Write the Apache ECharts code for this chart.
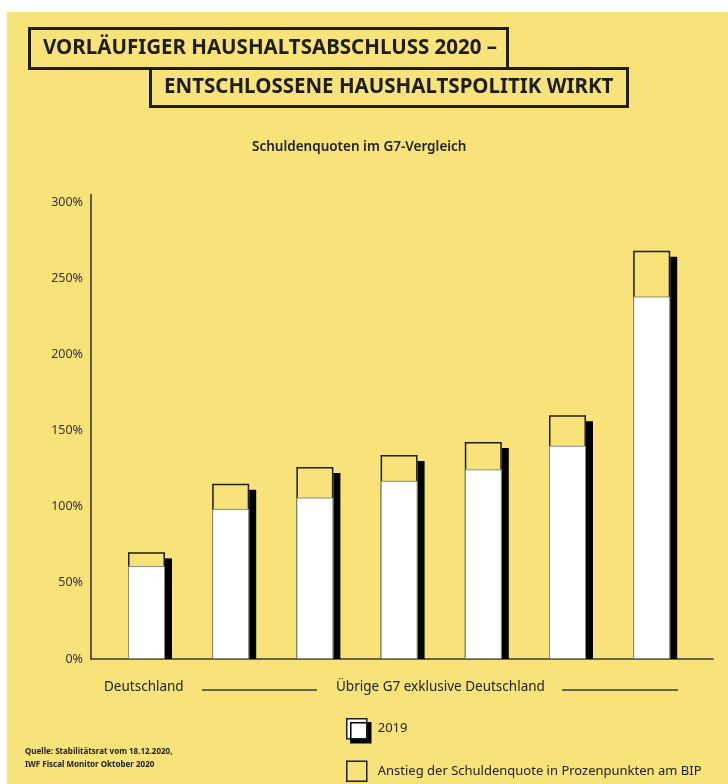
<!DOCTYPE html>
<html>
<head>
<meta charset="utf-8">
<title>Schuldenquoten im G7-Vergleich</title>
<script src="https://cdn.jsdelivr.net/npm/echarts@6/dist/echarts.min.js"></script>
<style>
  html, body { margin: 0; padding: 0; background: #fff; }
  #wrap { position: relative; width: 728px; height: 784px; overflow: hidden; }
  #panel { position: absolute; left: 7px; top: 12px; right: 0; bottom: 0; background: #f8e27a; }
  #chart { position: absolute; left: 0; top: 0; width: 728px; height: 784px; }
</style>
</head>
<body>
<div id="wrap">
  <div id="panel"></div>
  <div id="chart"></div>
</div>
<script>
// Daten (Schuldenquote in % des BIP)
const categories = ['Deutschland', 'G7-Land 1', 'G7-Land 2', 'G7-Land 3', 'G7-Land 4', 'G7-Land 5', 'G7-Land 6']
const debt2019 = [61, 98.5, 106, 117, 124.5, 140, 238]
const rise = [9, 16.5, 20, 17, 18, 20, 30]
const yTickLabels = ['0%', '50%', '100%', '150%', '200%', '250%', '300%']

const seriesName2019 = '2019'
const seriesNameRise = 'Anstieg der Schuldenquote in Prozenpunkten am BIP'

const YELLOW = '#f8e27a'
const INK = '#1d1d1b'
const FONT = 'Noto Sans'
const BAR_W = 37

// Summe = Höhe des gelben Balkens
const totals = debt2019.map((v, i) => v + rise[i])

// Schatten rechts neben jedem Balken
const renderShadow = (params, api) => {
  const top = api.coord([api.value(0), api.value(1)])
  const base = api.coord([api.value(0), 0])
  return {
    type: 'rect',
    shape: {
      x: top[0] + BAR_W / 2,
      y: top[1] + 6,
      width: 7,
      height: base[1] - top[1] - 6
    },
    style: { fill: '#000' }
  }
}

const chart = echarts.init(document.getElementById('chart'))

chart.setOption({
  animation: false,
  title: [
    {
      text: 'VORLÄUFIGER HAUSHALTSABSCHLUSS 2020 –',
      left: 29,
      top: 28,
      padding: [10, 11, 10, 14],
      borderColor: INK,
      borderWidth: 3,
      textStyle: { fontFamily: FONT, fontWeight: 'bold', fontSize: 20.5, color: INK }
    },
    {
      text: 'ENTSCHLOSSENE HAUSHALTSPOLITIK WIRKT',
      left: 150,
      top: 68,
      padding: [9, 14, 9, 14],
      borderColor: INK,
      borderWidth: 3,
      textStyle: { fontFamily: FONT, fontWeight: 'bold', fontSize: 20.5, color: INK }
    },
    {
      text: 'Schuldenquoten im G7-Vergleich',
      left: 252,
      top: 140,
      padding: 0,
      textStyle: { fontFamily: FONT, fontWeight: 600, fontSize: 13.5, color: '#222' }
    }
  ],
  grid: {
    left: 91,
    right: 15,
    top: 194.4,
    bottom: 125
  },
  xAxis: {
    type: 'value',
    min: -0.659,
    max: 6.728,
    axisLine: { show: true, lineStyle: { color: '#3a3a34', width: 1.5 } },
    axisTick: { show: false },
    axisLabel: { show: false },
    splitLine: { show: false }
  },
  yAxis: {
    type: 'value',
    min: 0,
    max: 305,
    interval: 50,
    axisLine: { show: true, onZero: false, lineStyle: { color: '#2e2e2a', width: 1.5 } },
    axisTick: { show: false },
    splitLine: { show: false },
    axisLabel: {
      showMaxLabel: false,
      margin: 8,
      fontFamily: FONT,
      fontSize: 12.5,
      color: '#333',
      formatter: (v) => yTickLabels[v / 50] || ''
    }
  },
  legend: {
    orient: 'vertical',
    left: 346,
    top: 718,
    padding: 0,
    itemWidth: 20,
    itemHeight: 20,
    itemGap: 21,
    icon: 'rect',
    textStyle: { fontFamily: FONT, fontSize: 13, color: '#222', padding: [0, 0, 0, 6] },
    data: [
      {
        name: seriesName2019,
        itemStyle: {
          color: '#fff', borderColor: INK, borderWidth: 1.5,
          shadowColor: '#000', shadowBlur: 0, shadowOffsetX: 4, shadowOffsetY: 4
        }
      },
      {
        name: seriesNameRise,
        itemStyle: { color: YELLOW, borderColor: INK, borderWidth: 1.5 }
      }
    ]
  },
  graphic: [
    {
      type: 'text', left: 104, top: 680,
      style: { text: 'Deutschland', font: '13.5px "Noto Sans"', fill: '#222' }
    },
    {
      type: 'line', shape: { x1: 202, y1: 690, x2: 317, y2: 690 },
      style: { stroke: '#3a3a34', lineWidth: 1.3 }
    },
    {
      type: 'text', left: 336, top: 680,
      style: { text: 'Übrige G7 exklusive Deutschland', font: '13.5px "Noto Sans"', fill: '#222' }
    },
    {
      type: 'line', shape: { x1: 562, y1: 690, x2: 678, y2: 690 },
      style: { stroke: '#3a3a34', lineWidth: 1.3 }
    },
    {
      type: 'text', left: 25, top: 745,
      style: {
        text: 'Quelle: Stabilitätsrat vom 18.12.2020,\nIWF Fiscal Monitor Oktober 2020',
        font: 'bold 8px "Noto Sans"', fill: '#222', lineHeight: 13
      }
    }
  ],
  series: [
    {
      type: 'custom',
      silent: true,
      z: 1,
      renderItem: renderShadow,
      data: totals.map((v, i) => [i, v])
    },
    {
      name: seriesNameRise,
      type: 'bar',
      barWidth: BAR_W,
      barGap: '-100%',
      z: 2,
      itemStyle: { color: YELLOW, borderColor: INK, borderWidth: 1.5 },
      data: totals.map((v, i) => [i, v])
    },
    {
      name: seriesName2019,
      type: 'bar',
      barWidth: BAR_W,
      barGap: '-100%',
      z: 3,
      itemStyle: { color: '#fff', borderColor: '#8a8a80', borderWidth: 1 },
      data: debt2019.map((v, i) => [i, v])
    }
  ]
})
</script>
</body>
</html>
